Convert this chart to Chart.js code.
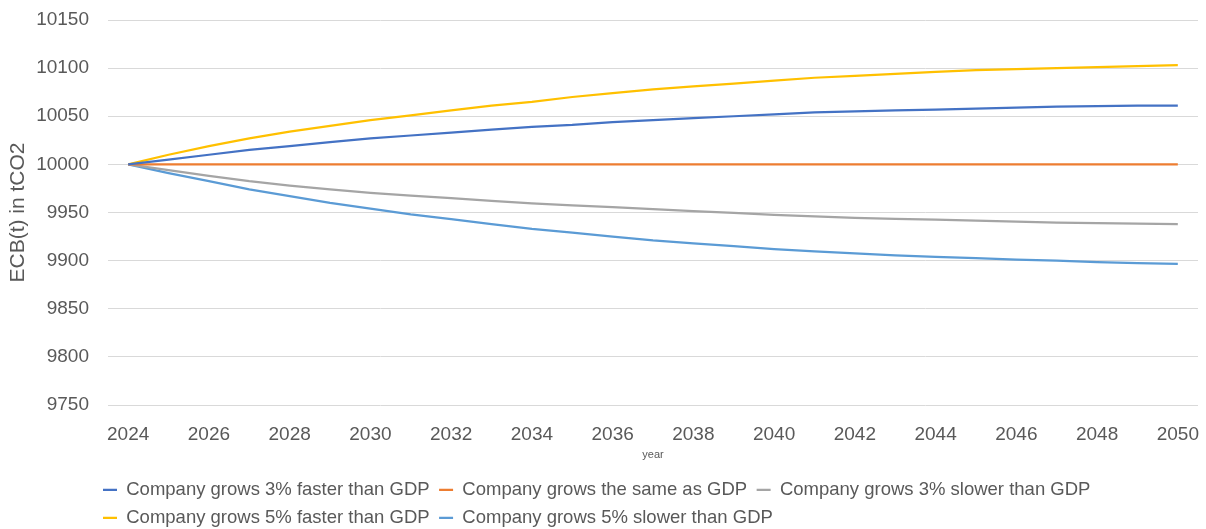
<!DOCTYPE html>
<html>
<head>
<meta charset="utf-8">
<script src="https://cdn.jsdelivr.net/npm/chart.js@4.4.1/dist/chart.umd.min.js"></script>
<style>
  html, body { margin: 0; padding: 0; background: #fff; }
  #wrap { width: 1206px; height: 529px; position: relative; }
</style>
</head>
<body>
<div id="wrap"><canvas id="ecbChart"></canvas></div>
<script>
// years on the x axis
const years = ['2024','2025','2026','2027','2028','2029','2030','2031','2032','2033','2034','2035','2036','2037',
  '2038','2039','2040','2041','2042','2043','2044','2045','2046','2047','2048','2049','2050'];

// ECB(t) in tCO2
const faster3 = [10000, 10005, 10010, 10015, 10019, 10023, 10027, 10030, 10033, 10036, 10039, 10041, 10044, 10046,
  10048, 10050, 10052, 10054, 10055, 10056, 10057, 10058, 10059, 10060, 10060.5, 10061, 10061];
const sameGdp = [10000, 10000, 10000, 10000, 10000, 10000, 10000, 10000, 10000, 10000, 10000, 10000, 10000, 10000,
  10000, 10000, 10000, 10000, 10000, 10000, 10000, 10000, 10000, 10000, 10000, 10000, 10000];
const slower3 = [10000, 9994, 9988, 9982.5, 9978, 9974, 9970.5, 9967.5, 9965, 9962, 9959.5, 9957.5, 9955.5, 9953.5,
  9951.5, 9949.5, 9947.5, 9946, 9944.5, 9943.5, 9942.5, 9941.5, 9940.5, 9939.5, 9939, 9938.5, 9938];
const faster5 = [10000, 10010, 10019, 10027, 10034, 10040, 10046, 10051, 10056, 10061, 10065, 10070, 10074, 10078,
  10081, 10084, 10087, 10090, 10092, 10094, 10096, 10098, 10099, 10100, 10101, 10102, 10103];
const slower5 = [10000, 9991, 9982.5, 9974, 9967, 9960, 9954, 9948, 9943, 9938, 9933, 9929, 9925, 9921,
  9918, 9915, 9912, 9909.5, 9907.5, 9905.5, 9904, 9902.5, 9901, 9900, 9898.5, 9897.5, 9896.5];

const yTicks = { min: 9750, max: 10150, step: 50 };

const textGrey = '#595959';
const lineW = 2.25;

// move the legend so rows start under the plot like the Excel one
const legendPlace = {
  id: 'legendPlace',
  afterLayout(chart) {
    const lg = chart.legend;
    if (!lg) return;
    lg.left = 93.5;
    lg.top += 8;
    lg.bottom += 8;
  }
};

const ctx = document.getElementById('ecbChart');
new Chart(ctx, {
  type: 'line',
  data: {
    labels: years,
    datasets: [
      { label: 'Company grows 3% faster than GDP', data: faster3, borderColor: '#4472C4', backgroundColor: '#4472C4', borderWidth: lineW },
      { label: 'Company grows the same as GDP', data: sameGdp, borderColor: '#ED7D31', backgroundColor: '#ED7D31', borderWidth: lineW },
      { label: 'Company grows 3% slower than GDP', data: slower3, borderColor: '#A5A5A5', backgroundColor: '#A5A5A5', borderWidth: lineW },
      { label: 'Company grows 5% faster than GDP', data: faster5, borderColor: '#FFC000', backgroundColor: '#FFC000', borderWidth: lineW },
      { label: 'Company grows 5% slower than GDP', data: slower5, borderColor: '#5B9BD5', backgroundColor: '#5B9BD5', borderWidth: lineW }
    ]
  },
  options: {
    responsive: true,
    maintainAspectRatio: false,
    animation: false,
    elements: {
      line: { tension: 0 },
      point: { radius: 0, hoverRadius: 0 }
    },
    layout: { padding: { top: 20, right: 8, left: 0, bottom: 0 } },
    plugins: {
      tooltip: { enabled: false },
      legend: {
        position: 'bottom',
        align: 'start',
        labels: {
          usePointStyle: true,
          pointStyle: 'line',
          pointStyleWidth: 14,
          padding: 9.5,
          color: textGrey,
          font: { family: 'Liberation Sans', size: 18.5 }
        }
      }
    },
    scales: {
      x: {
        offset: true,
        grid: { display: false },
        border: { display: false },
        ticks: {
          autoSkip: false,
          maxRotation: 0,
          padding: 10,
          color: textGrey,
          font: { family: 'Liberation Sans', size: 19 },
          callback: function(val, idx) {
            return idx % 2 === 0 ? this.getLabelForValue(val) : '';
          }
        },
        title: {
          display: true,
          text: 'year',
          color: textGrey,
          font: { family: 'Liberation Sans', size: 11 },
          padding: { top: 4, bottom: 1 }
        },
        afterFit: (scale) => {
          scale.height = 58;
          scale.paddingLeft = 0;
          scale.paddingRight = 0;
        }
      },
      y: {
        min: yTicks.min,
        max: yTicks.max,
        grid: { color: '#D9D9D9', lineWidth: 1, drawTicks: false },
        border: { display: false },
        ticks: {
          stepSize: yTicks.step,
          padding: 19,
          color: textGrey,
          font: { family: 'Liberation Sans', size: 19 },
          callback: (v) => String(v)
        },
        title: {
          display: true,
          text: 'ECB(t) in tCO2',
          color: textGrey,
          font: { family: 'Liberation Sans', size: 21 },
          padding: { top: 6, bottom: 0 }
        },
        afterFit: (scale) => {
          scale.width = 108;
          scale.paddingTop = 0;
          scale.paddingBottom = 0;
        }
      }
    }
  },
  plugins: [legendPlace]
});
</script>
</body>
</html>
